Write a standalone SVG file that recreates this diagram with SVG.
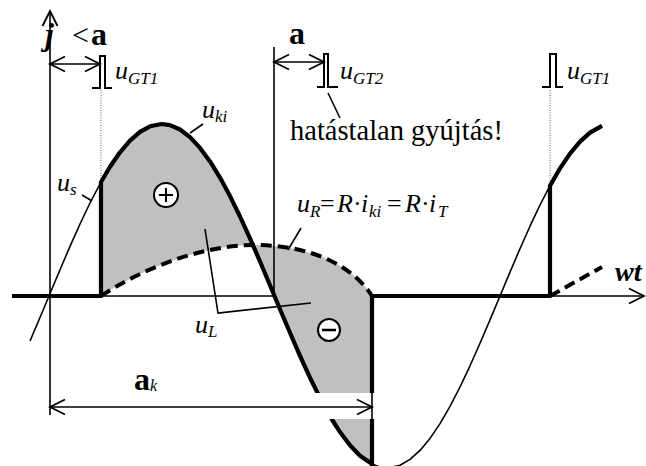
<svg xmlns="http://www.w3.org/2000/svg" width="646" height="466" viewBox="0 0 646 466">
<style>
text{font-family:"Liberation Serif","Times New Roman",serif;fill:#000}
.it{font-style:italic}
.bd{font-weight:bold}
.m{font-size:26px}
.s{font-size:17px}
.g{font-size:32px;font-weight:bold}
.thin{fill:none;stroke:#000;stroke-width:1.6}
.thick{fill:none;stroke:#000;stroke-width:4.2;stroke-linejoin:round}
.dot{fill:none;stroke:#666;stroke-width:1;stroke-dasharray:1 1.5}
.dash{fill:none;stroke:#000;stroke-width:4;stroke-dasharray:11 6}
.ld{fill:none;stroke:#000;stroke-width:1.6}
.pulse{fill:none;stroke:#000;stroke-width:2}
</style>
<defs>
<marker id="arr" viewBox="-17 -9 19 18" refX="0" refY="0" markerWidth="19" markerHeight="18" markerUnits="userSpaceOnUse" orient="auto-start-reverse">
<path d="M-15,-7.5 L0,0 L-15,7.5" fill="none" stroke="#000" stroke-width="1.8"/>
</marker>
</defs>

<!-- horizontal axis (thin) -->
<line class="thin" x1="12" y1="296" x2="644" y2="296" marker-end="url(#arr)"/>

<!-- gray area u_L -->
<path id="uL-area" fill="#c0c0c0" stroke="none" d="M101,296 L101,182 L110,166.8 L120,152.3 L130,140.6 L140,131.8 L150,126.3 L161.75,124 L170,125.1 L180,129.5 L190,137.1 L200,147.9 L210,161.4 L220,177.6 L230,196.1 L240,216.5 L250,238.4 L260,261.5 L274.5,296 L280,309.2 L290,332.8 L300,355.8 L310,377.7 L320,397.9 L332,419.5 L340,432.1 L350,445.3 L360,455.8 L372,464.1 L372,296 C350,262 305,245 255,245 C200,245 140,270 101,296 Z"/>

<!-- vertical lines -->
<line class="thin" x1="50" y1="415" x2="50" y2="11" marker-end="url(#arr)"/>
<line class="thin" x1="274" y1="47" x2="274" y2="296"/>
<line class="dot" x1="101" y1="90" x2="101" y2="182"/>
<line class="dot" x1="550" y1="90" x2="550" y2="185"/>

<!-- u_s sine (thin) -->
<path id="us" class="thin" stroke-linejoin="round" d="M30,341 L40,317.5 L49,296 L60,269.7 L70,246.4 L80,224 L90,203 L101,182 L110,166.8 L120,152.3 L130,140.6 L140,131.8 L150,126.3 L161.75,124 L170,125.1 L180,129.5 L190,137.1 L200,147.9 L210,161.4 L220,177.6 L230,196.1 L240,216.5 L250,238.4 L260,261.5 L274.5,296 L280,309.2 L290,332.8 L300,355.8 L310,377.7 L320,397.9 L332,419.5 L340,432.1 L350,445.3 L360,455.8 L372,464.1 L380,467.1 L387.25,468 L400,465.3 L410,459.4 L420,450.4 L430,438.4 L440,423.6 L450,406.3 L460,387 L470,365.8 L480,343.3 L490,319.9 L500,296 L510,272.1 L520,248.7 L530,226.2 L540,205 L550,185.7 L560,168.4 L570,153.6 L580,141.6 L590,132.6 L602,125.9"/>

<!-- u_R dashed -->
<path id="uR" class="dash" d="M101,296 C140,270 200,245 255,245 C305,245 350,262 372,296"/>
<path class="dash" d="M550,296 L602,267"/>

<!-- u_ki thick -->
<g id="uki">
<path class="thick" d="M12,296 L101,296 L101,182 L110,166.8 L120,152.3 L130,140.6 L140,131.8 L150,126.3 L161.75,124 L170,125.1 L180,129.5 L190,137.1 L200,147.9 L210,161.4 L220,177.6 L230,196.1 L240,216.5 L250,238.4 L260,261.5 L274.5,296 L280,309.2 L290,332.8 L300,355.8 L310,377.7 L320,397.9 L332,419.5 L340,432.1 L350,445.3 L360,455.8 L372,464.1"/>
<path class="thick" d="M372,466 L372,296 L550,296 L550,185.7 L560,168.4 L570,153.6 L580,141.6 L590,132.6 L602,125.9"/>
</g>

<!-- white band for alpha_k dimension -->
<rect x="300" y="393" width="75" height="26" fill="#fff"/>
<line class="thin" x1="372" y1="296" x2="372" y2="421"/>

<!-- dimension arrows and leaders -->
<g id="connectors">
<line class="thin" x1="50" y1="64" x2="100" y2="64" marker-start="url(#arr)" marker-end="url(#arr)"/>
<line class="thin" x1="274" y1="62" x2="324" y2="62" marker-start="url(#arr)" marker-end="url(#arr)"/>
<line class="thin" x1="50" y1="407" x2="372" y2="407" marker-start="url(#arr)" marker-end="url(#arr)"/>
<line class="ld" x1="190" y1="133" x2="203" y2="124"/>
<line class="ld" x1="82" y1="195" x2="92" y2="201"/>
<line class="ld" x1="301" y1="228" x2="288" y2="250"/>
<polyline class="ld" points="205,229 218,313 311,303"/>
<line class="ld" x1="328" y1="93" x2="340" y2="118"/>
</g>

<!-- pulses -->
<g id="pulse1"><path class="pulse" d="M92,88 H100 V56 H105 V88 H112"/>
<text x="115" y="79" class="it m">u<tspan class="s" dy="5">GT1</tspan></text></g>
<g id="pulse2"><path class="pulse" d="M317,87 H324 V54 H328 V87 H338"/>
<text x="340" y="79" class="it m">u<tspan class="s" dy="5">GT2</tspan></text></g>
<g id="pulse3"><path class="pulse" d="M542,87 H550 V54 H556 V87 H563"/>
<text x="567" y="79" class="it m">u<tspan class="s" dy="5">GT1</tspan></text></g>

<!-- signs -->
<g id="plus"><circle cx="166" cy="195" r="12" fill="#fff" stroke="#000" stroke-width="2"/>
<path d="M159,195 H173 M166,188 V202" stroke="#000" stroke-width="2"/></g>
<g id="minus"><circle cx="329" cy="330" r="11" fill="#fff" stroke="#000" stroke-width="2"/>
<path d="M322,330 H336" stroke="#000" stroke-width="2.5"/></g>

<!-- labels -->
<text y="45"><tspan x="45" class="g it">j</tspan><tspan x="72" font-size="30">&lt;</tspan><tspan x="91" class="g">a</tspan></text>
<text x="289" y="44" class="g">a</text>
<text x="134" y="390" class="g">a<tspan class="it" font-size="16" font-weight="normal" dy="1">k</tspan></text>
<text x="615" y="281" class="it" font-size="28" font-weight="bold">wt</text>
<text x="202" y="118" class="it m">u<tspan class="s" dy="4">ki</tspan></text>
<text x="57" y="191" class="it m">u<tspan class="s" dy="4">s</tspan></text>
<text x="195" y="333" class="it m">u<tspan class="s" dy="4">L</tspan></text>
<text x="290" y="140" font-size="28.5">hatástalan gyújtás!</text>
<text class="m" y="212"><tspan x="297" class="it">u</tspan><tspan x="310" y="217" class="it s">R</tspan><tspan x="320" y="212">=</tspan><tspan x="337" class="it">R</tspan><tspan x="353">·</tspan><tspan x="361" class="it">i</tspan><tspan x="369" y="217" class="it s">ki</tspan><tspan x="387" y="212">=</tspan><tspan x="405" class="it">R</tspan><tspan x="421">·</tspan><tspan x="429" class="it">i</tspan><tspan x="438" y="217" class="it s">T</tspan></text>
</svg>
